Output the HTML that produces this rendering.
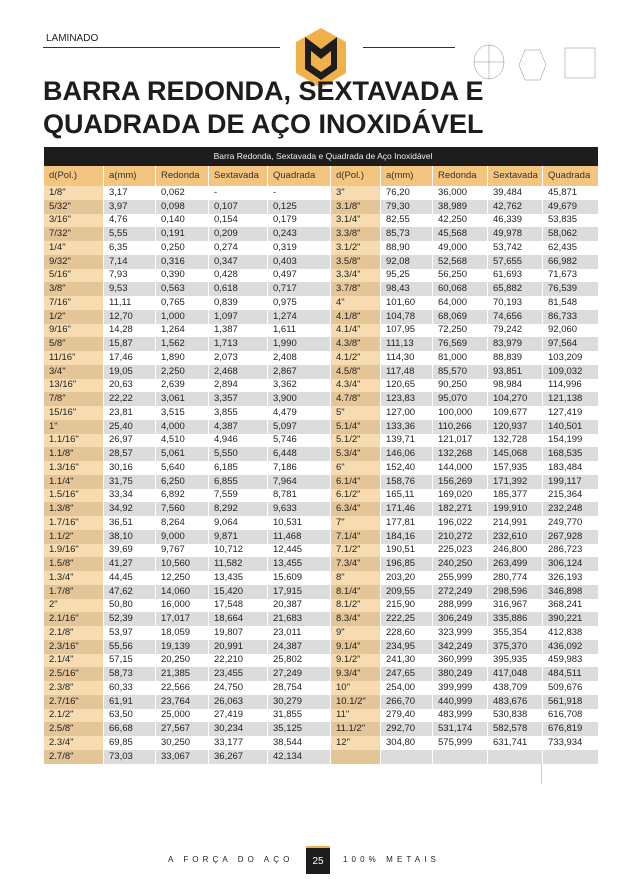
<!DOCTYPE html>
<html><head><meta charset="utf-8"><style>
body{margin:0;width:640px;height:879px;overflow:hidden;background:#fff;font-family:"Liberation Sans",sans-serif;color:#222;position:relative}
.abs{position:absolute}
table{position:absolute;left:43px;top:147px;border-collapse:collapse;table-layout:fixed;width:554px;height:617px;font-size:9.5px}
td{height:12.57px;padding:0 0 0 5px;line-height:12px;white-space:nowrap;overflow:hidden;border-left:1px solid rgba(255,255,255,.7)}
tbody tr{height:12.57px}
thead tr.t td{background:#1f1c1d;color:#eee;text-align:center;height:19px;line-height:19px;font-size:8.5px;border:none}
thead tr.h td{background:#f3c57e;color:#333;height:20px;line-height:20px;font-size:9.5px}
tbody tr:nth-child(even) td{background:#dcdcdc}
tbody tr:nth-child(odd) td{background:#fff}
tbody tr:nth-child(odd) td.d{background:#f6dcb0}
tbody tr:nth-child(even) td.d{background:#e4c598}
.f{font-size:8px;letter-spacing:4.1px;color:#222}
</style></head><body>
<div class="abs" style="left:46px;top:33px;font-size:10px;color:#222">LAMINADO</div>
<div class="abs" style="left:43px;top:47px;width:237px;height:1px;background:#333"></div>
<div class="abs" style="left:363px;top:47px;width:92px;height:1px;background:#333"></div>
<svg class="abs" style="left:295px;top:27px" width="52" height="62" viewBox="0 0 52 62">
<polygon points="26,1 51,15 51,46 26,61 1,46 1,15" fill="#f0b14a"/>
<polygon points="10,10 26,22 42,10 42,42 26,53 10,42" fill="#1f1c1d"/>
<polygon points="16,24 26,32 36,24 36,38 26,45 16,38" fill="#f0b14a"/>
</svg>
<svg class="abs" style="left:465px;top:40px" width="140" height="50" viewBox="0 0 140 50">
<g fill="none" stroke="#888" stroke-width="0.5">
<ellipse cx="24" cy="22" rx="15" ry="17"/><line x1="9" y1="22" x2="39" y2="22"/><line x1="24" y1="5" x2="24" y2="39"/>
<polygon points="60,10 75,10 81,25 75,40 60,40 54,25"/>
<rect x="100" y="8" width="30" height="30"/>
</g></svg>
<div class="abs" style="left:43px;top:75px;font-size:27px;font-weight:bold;line-height:33px;color:#1f1c1d">BARRA REDONDA, SEXTAVADA E<br>QUADRADA DE AÇO INOXIDÁVEL</div>
<table>
<colgroup><col style="width:60px"><col style="width:52px"><col style="width:53px"><col style="width:59px"><col style="width:63px"><col style="width:50px"><col style="width:52px"><col style="width:55px"><col style="width:55px"><col style="width:55px"></colgroup>
<thead>
<tr class="t"><td colspan="10">Barra Redonda, Sextavada e Quadrada de Aço Inoxidável</td></tr>
<tr class="h"><td>d(Pol.)</td><td>a(mm)</td><td>Redonda</td><td>Sextavada</td><td>Quadrada</td><td>d(Pol.)</td><td>a(mm)</td><td>Redonda</td><td>Sextavada</td><td>Quadrada</td></tr>
</thead>
<tbody>
<tr><td class="d">1/8"</td><td>3,17</td><td>0,062</td><td>-</td><td>-</td><td class="d">3"</td><td>76,20</td><td>36,000</td><td>39,484</td><td>45,871</td></tr>
<tr><td class="d">5/32"</td><td>3,97</td><td>0,098</td><td>0,107</td><td>0,125</td><td class="d">3.1/8"</td><td>79,30</td><td>38,989</td><td>42,762</td><td>49,679</td></tr>
<tr><td class="d">3/16"</td><td>4,76</td><td>0,140</td><td>0,154</td><td>0,179</td><td class="d">3.1/4"</td><td>82,55</td><td>42,250</td><td>46,339</td><td>53,835</td></tr>
<tr><td class="d">7/32"</td><td>5,55</td><td>0,191</td><td>0,209</td><td>0,243</td><td class="d">3.3/8"</td><td>85,73</td><td>45,568</td><td>49,978</td><td>58,062</td></tr>
<tr><td class="d">1/4"</td><td>6,35</td><td>0,250</td><td>0,274</td><td>0,319</td><td class="d">3.1/2"</td><td>88,90</td><td>49,000</td><td>53,742</td><td>62,435</td></tr>
<tr><td class="d">9/32"</td><td>7,14</td><td>0,316</td><td>0,347</td><td>0,403</td><td class="d">3.5/8"</td><td>92,08</td><td>52,568</td><td>57,655</td><td>66,982</td></tr>
<tr><td class="d">5/16"</td><td>7,93</td><td>0,390</td><td>0,428</td><td>0,497</td><td class="d">3.3/4"</td><td>95,25</td><td>56,250</td><td>61,693</td><td>71,673</td></tr>
<tr><td class="d">3/8"</td><td>9,53</td><td>0,563</td><td>0,618</td><td>0,717</td><td class="d">3.7/8"</td><td>98,43</td><td>60,068</td><td>65,882</td><td>76,539</td></tr>
<tr><td class="d">7/16"</td><td>11,11</td><td>0,765</td><td>0,839</td><td>0,975</td><td class="d">4"</td><td>101,60</td><td>64,000</td><td>70,193</td><td>81,548</td></tr>
<tr><td class="d">1/2"</td><td>12,70</td><td>1,000</td><td>1,097</td><td>1,274</td><td class="d">4.1/8"</td><td>104,78</td><td>68,069</td><td>74,656</td><td>86,733</td></tr>
<tr><td class="d">9/16"</td><td>14,28</td><td>1,264</td><td>1,387</td><td>1,611</td><td class="d">4.1/4"</td><td>107,95</td><td>72,250</td><td>79,242</td><td>92,060</td></tr>
<tr><td class="d">5/8"</td><td>15,87</td><td>1,562</td><td>1,713</td><td>1,990</td><td class="d">4.3/8"</td><td>111,13</td><td>76,569</td><td>83,979</td><td>97,564</td></tr>
<tr><td class="d">11/16"</td><td>17,46</td><td>1,890</td><td>2,073</td><td>2,408</td><td class="d">4.1/2"</td><td>114,30</td><td>81,000</td><td>88,839</td><td>103,209</td></tr>
<tr><td class="d">3/4"</td><td>19,05</td><td>2,250</td><td>2,468</td><td>2,867</td><td class="d">4.5/8"</td><td>117,48</td><td>85,570</td><td>93,851</td><td>109,032</td></tr>
<tr><td class="d">13/16"</td><td>20,63</td><td>2,639</td><td>2,894</td><td>3,362</td><td class="d">4.3/4"</td><td>120,65</td><td>90,250</td><td>98,984</td><td>114,996</td></tr>
<tr><td class="d">7/8"</td><td>22,22</td><td>3,061</td><td>3,357</td><td>3,900</td><td class="d">4.7/8"</td><td>123,83</td><td>95,070</td><td>104,270</td><td>121,138</td></tr>
<tr><td class="d">15/16"</td><td>23,81</td><td>3,515</td><td>3,855</td><td>4,479</td><td class="d">5"</td><td>127,00</td><td>100,000</td><td>109,677</td><td>127,419</td></tr>
<tr><td class="d">1"</td><td>25,40</td><td>4,000</td><td>4,387</td><td>5,097</td><td class="d">5.1/4"</td><td>133,36</td><td>110,266</td><td>120,937</td><td>140,501</td></tr>
<tr><td class="d">1.1/16"</td><td>26,97</td><td>4,510</td><td>4,946</td><td>5,746</td><td class="d">5.1/2"</td><td>139,71</td><td>121,017</td><td>132,728</td><td>154,199</td></tr>
<tr><td class="d">1.1/8"</td><td>28,57</td><td>5,061</td><td>5,550</td><td>6,448</td><td class="d">5.3/4"</td><td>146,06</td><td>132,268</td><td>145,068</td><td>168,535</td></tr>
<tr><td class="d">1.3/16"</td><td>30,16</td><td>5,640</td><td>6,185</td><td>7,186</td><td class="d">6"</td><td>152,40</td><td>144,000</td><td>157,935</td><td>183,484</td></tr>
<tr><td class="d">1.1/4"</td><td>31,75</td><td>6,250</td><td>6,855</td><td>7,964</td><td class="d">6.1/4"</td><td>158,76</td><td>156,269</td><td>171,392</td><td>199,117</td></tr>
<tr><td class="d">1.5/16"</td><td>33,34</td><td>6,892</td><td>7,559</td><td>8,781</td><td class="d">6.1/2"</td><td>165,11</td><td>169,020</td><td>185,377</td><td>215,364</td></tr>
<tr><td class="d">1.3/8"</td><td>34,92</td><td>7,560</td><td>8,292</td><td>9,633</td><td class="d">6.3/4"</td><td>171,46</td><td>182,271</td><td>199,910</td><td>232,248</td></tr>
<tr><td class="d">1.7/16"</td><td>36,51</td><td>8,264</td><td>9,064</td><td>10,531</td><td class="d">7"</td><td>177,81</td><td>196,022</td><td>214,991</td><td>249,770</td></tr>
<tr><td class="d">1.1/2"</td><td>38,10</td><td>9,000</td><td>9,871</td><td>11,468</td><td class="d">7.1/4"</td><td>184,16</td><td>210,272</td><td>232,610</td><td>267,928</td></tr>
<tr><td class="d">1.9/16"</td><td>39,69</td><td>9,767</td><td>10,712</td><td>12,445</td><td class="d">7.1/2"</td><td>190,51</td><td>225,023</td><td>246,800</td><td>286,723</td></tr>
<tr><td class="d">1.5/8"</td><td>41,27</td><td>10,560</td><td>11,582</td><td>13,455</td><td class="d">7.3/4"</td><td>196,85</td><td>240,250</td><td>263,499</td><td>306,124</td></tr>
<tr><td class="d">1.3/4"</td><td>44,45</td><td>12,250</td><td>13,435</td><td>15,609</td><td class="d">8"</td><td>203,20</td><td>255,999</td><td>280,774</td><td>326,193</td></tr>
<tr><td class="d">1.7/8"</td><td>47,62</td><td>14,060</td><td>15,420</td><td>17,915</td><td class="d">8.1/4"</td><td>209,55</td><td>272,249</td><td>298,596</td><td>346,898</td></tr>
<tr><td class="d">2"</td><td>50,80</td><td>16,000</td><td>17,548</td><td>20,387</td><td class="d">8.1/2"</td><td>215,90</td><td>288,999</td><td>316,967</td><td>368,241</td></tr>
<tr><td class="d">2.1/16"</td><td>52,39</td><td>17,017</td><td>18,664</td><td>21,683</td><td class="d">8.3/4"</td><td>222,25</td><td>306,249</td><td>335,886</td><td>390,221</td></tr>
<tr><td class="d">2.1/8"</td><td>53,97</td><td>18,059</td><td>19,807</td><td>23,011</td><td class="d">9"</td><td>228,60</td><td>323,999</td><td>355,354</td><td>412,838</td></tr>
<tr><td class="d">2.3/16"</td><td>55,56</td><td>19,139</td><td>20,991</td><td>24,387</td><td class="d">9.1/4"</td><td>234,95</td><td>342,249</td><td>375,370</td><td>436,092</td></tr>
<tr><td class="d">2.1/4"</td><td>57,15</td><td>20,250</td><td>22,210</td><td>25,802</td><td class="d">9.1/2"</td><td>241,30</td><td>360,999</td><td>395,935</td><td>459,983</td></tr>
<tr><td class="d">2.5/16"</td><td>58,73</td><td>21,385</td><td>23,455</td><td>27,249</td><td class="d">9.3/4"</td><td>247,65</td><td>380,249</td><td>417,048</td><td>484,511</td></tr>
<tr><td class="d">2.3/8"</td><td>60,33</td><td>22,566</td><td>24,750</td><td>28,754</td><td class="d">10"</td><td>254,00</td><td>399,999</td><td>438,709</td><td>509,676</td></tr>
<tr><td class="d">2.7/16"</td><td>61,91</td><td>23,764</td><td>26,063</td><td>30,279</td><td class="d">10.1/2"</td><td>266,70</td><td>440,999</td><td>483,676</td><td>561,918</td></tr>
<tr><td class="d">2.1/2"</td><td>63,50</td><td>25,000</td><td>27,419</td><td>31,855</td><td class="d">11"</td><td>279,40</td><td>483,999</td><td>530,838</td><td>616,708</td></tr>
<tr><td class="d">2.5/8"</td><td>66,68</td><td>27,567</td><td>30,234</td><td>35,125</td><td class="d">11.1/2"</td><td>292,70</td><td>531,174</td><td>582,578</td><td>676,819</td></tr>
<tr><td class="d">2.3/4"</td><td>69,85</td><td>30,250</td><td>33,177</td><td>38,544</td><td class="d">12"</td><td>304,80</td><td>575,999</td><td>631,741</td><td>733,934</td></tr>
<tr><td class="d">2.7/8"</td><td>73,03</td><td>33,067</td><td>36,267</td><td>42,134</td><td class="d"></td><td></td><td></td><td></td><td></td></tr>
</tbody>
</table>
<div class="abs" style="left:541px;top:764px;width:1px;height:20px;background:#ccc"></div>
<div class="abs f" style="left:168px;top:855px">A FORÇA DO AÇO</div>
<div class="abs" style="left:306px;top:846px;width:24px;height:26px;background:#1f1c1d;border-top:2px solid #f0b14a;color:#fff;font-size:10px;text-align:center;line-height:28px">25</div>
<div class="abs f" style="left:343px;top:855px">100% METAIS</div>
</body></html>
